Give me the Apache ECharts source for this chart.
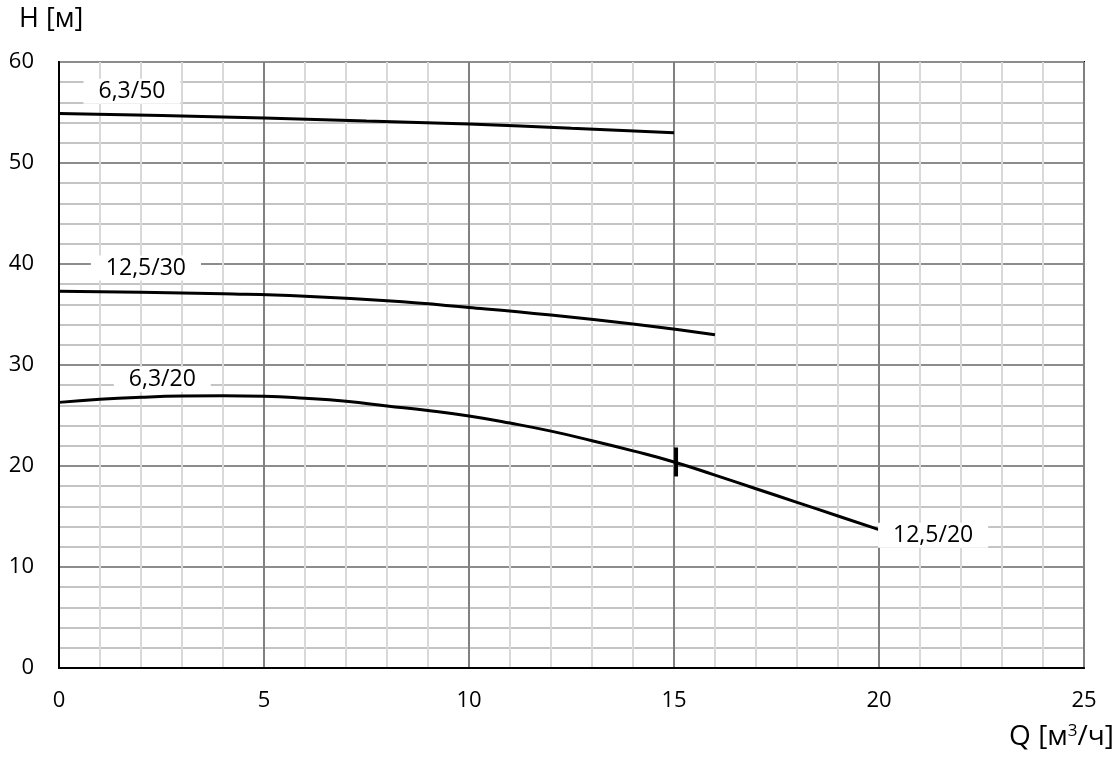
<!DOCTYPE html>
<html>
<head>
<meta charset="utf-8">
<script src="https://cdn.jsdelivr.net/npm/echarts@6/dist/echarts.min.js"></script>
<style>html,body{margin:0;padding:0;background:#fff}#c{width:1120px;height:758px}</style>
</head>
<body>
<div id="c"></div>
<script>
// Curve 6,3/50
var Q_50 = [0, 2.5, 5, 7.5, 10, 12.5, 15];
var H_50 = [54.9, 54.7, 54.45, 54.15, 53.85, 53.45, 53.0];
// Curve 12,5/30
var Q_30 = [0, 2, 4, 6, 8, 10, 12, 14, 16];
var H_30 = [37.3, 37.2, 37.05, 36.8, 36.35, 35.7, 34.95, 34.05, 33.0];
// Curve 6,3/20 + 12,5/20
var Q_20 = [0, 1, 2, 3, 4, 5, 6, 7, 8, 9, 10, 11, 12, 13, 14, 15, 16, 17, 18, 19, 20];
var H_20 = [26.3, 26.6, 26.8, 26.92, 26.95, 26.9, 26.7, 26.4, 25.95, 25.5, 24.95, 24.25, 23.45, 22.5, 21.5, 20.4, 19.1, 17.75, 16.4, 15.05, 13.7];
// Transition mark
var MARK_Q = [15.05];
var MARK_H = [20.4];
// Curve labels
var LABEL_TEXT = ['6,3/50', '12,5/30', '6,3/20', '12,5/20'];
var LABEL_Q = [1.78, 2.12, 2.52, 21.32];
var LABEL_H = [57.1, 39.6, 28.6, 13.15];
// Axes
var X_MIN = 0, X_MAX = 25, X_STEP = 5;
var Y_MIN = 0, Y_MAX = 60, Y_STEP = 10;

function zip(a, b) { return a.map(function (v, i) { return [v, b[i]]; }); }

var FONT = '"Open Sans", "Liberation Sans", sans-serif';
var chart = echarts.init(document.getElementById('c'), null, {renderer: 'canvas'});
var lineStyle = {color: '#000', width: 3};

chart.setOption({
  animation: false,
  backgroundColor: '#fff',
  grid: {left: 59, right: 36, top: 62, bottom: 90, show: true, borderColor: '#000', borderWidth: 2, backgroundColor: 'transparent'},
  xAxis: {
    type: 'value', min: X_MIN, max: X_MAX, interval: X_STEP,
    axisLine: {show: true, lineStyle: {color: '#000', width: 2}},
    axisTick: {show: false},
    axisLabel: {color: '#000', fontSize: 22, fontFamily: FONT, margin: 22},
    splitLine: {show: true, lineStyle: {color: '#808080', width: 2}},
    minorTick: {show: false, splitNumber: 5},
    minorSplitLine: {show: true, lineStyle: {color: '#d9d9d9', width: 2}}
  },
  yAxis: {
    type: 'value', min: Y_MIN, max: Y_MAX, interval: Y_STEP,
    axisLine: {show: true, lineStyle: {color: '#000', width: 2}},
    axisTick: {show: false},
    axisLabel: {color: '#000', fontSize: 22, fontFamily: FONT, margin: 25},
    splitLine: {show: true, lineStyle: {color: '#8c8c8c', width: 2}},
    minorTick: {show: false, splitNumber: 5},
    minorSplitLine: {show: true, lineStyle: {color: '#c4c4c4', width: 2}}
  },
  graphic: [
    {type: 'text', left: 19, top: 6, style: {text: 'H [м]', font: '27px ' + FONT, fill: '#000'}},
    {type: 'text', right: 6, top: 723, style: {
      text: 'Q [м{sup|3}/ч]', font: '28px ' + FONT, fill: '#000',
      rich: {sup: {fontSize: 17, fontFamily: FONT, verticalAlign: 'top', padding: [0, 0, 12, 0], fill: '#000'}}
    }}
  ],
  series: [
    {type: 'line', data: zip(Q_50, H_50), smooth: 0.5, symbol: 'none', lineStyle: lineStyle, z: 5},
    {type: 'line', data: zip(Q_30, H_30), smooth: 0.5, symbol: 'none', lineStyle: lineStyle, z: 5},
    {type: 'line', data: zip(Q_20, H_20), smooth: 0.5, symbol: 'none', lineStyle: lineStyle, z: 5},
    {type: 'scatter', data: zip(MARK_Q, MARK_H), symbol: 'rect', symbolSize: [4, 29], itemStyle: {color: '#000', opacity: 1}, z: 6},
    {type: 'scatter', symbolSize: 0, z: 7, itemStyle: {opacity: 1},
      data: LABEL_TEXT.map(function (t, i) { return {value: [LABEL_Q[i], LABEL_H[i]], name: t}; }),
      label: {show: true, position: 'inside', formatter: '{b}', color: '#000', opacity: 1, fontSize: 23, fontFamily: FONT,
        backgroundColor: '#fff', padding: [1, 15, 1, 15]}
    }
  ]
});
</script>
</body>
</html>
